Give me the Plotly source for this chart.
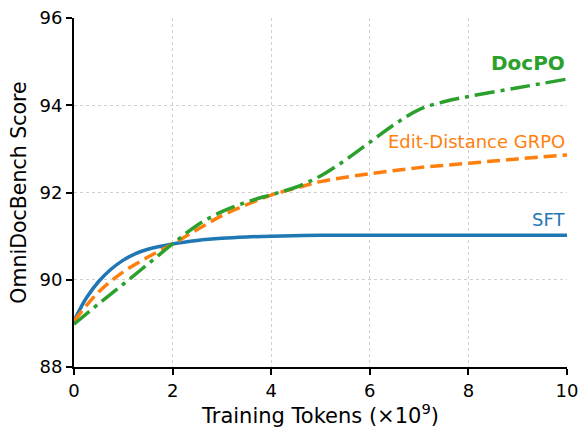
import plotly.graph_objects as go

# Data
x_sft = [0, 0.1, 0.25, 0.5, 0.75, 1.0, 1.25, 1.5, 2.0, 2.5, 3.0, 3.5, 4.0, 5.0, 6.0, 8.0, 10.0]
y_sft = [89.05, 89.28, 89.58, 89.96, 90.24, 90.45, 90.6, 90.7, 90.82, 90.9, 90.95, 90.98, 91.0, 91.02, 91.02, 91.02, 91.02]

x_grpo = [0, 0.5, 1.0, 1.5, 2.0, 2.5, 3.0, 3.5, 4.0, 4.5, 5.0, 6.0, 7.0, 8.0, 9.0, 10.0]
y_grpo = [89.05, 89.72, 90.18, 90.52, 90.82, 91.15, 91.47, 91.72, 91.94, 92.1, 92.25, 92.43, 92.57, 92.67, 92.77, 92.86]

x_doc = [0, 0.5, 1.0, 1.5, 2.0, 2.5, 3.0, 3.5, 4.0, 4.5, 5.0, 5.5, 6.0, 6.5, 7.0, 7.5, 8.0, 9.0, 10.0]
y_doc = [88.98, 89.45, 89.9, 90.36, 90.82, 91.25, 91.56, 91.78, 91.95, 92.12, 92.38, 92.74, 93.15, 93.56, 93.9, 94.08, 94.2, 94.4, 94.6]

x_ticks = [0, 2, 4, 6, 8, 10]
y_ticks = [88, 90, 92, 94, 96]

BLUE, ORANGE, GREEN = "#1f77b4", "#ff7f0e", "#2ca02c"
FONT = "DejaVu Sans"

fig = go.Figure()
fig.add_trace(go.Scatter(x=x_sft, y=y_sft, mode="lines", line=dict(color=BLUE, width=3.5, shape="spline", smoothing=1), name="SFT"))
fig.add_trace(go.Scatter(x=x_grpo, y=y_grpo, mode="lines", line=dict(color=ORANGE, width=3.5, dash="13px,6px", shape="spline", smoothing=1), name="Edit-Distance GRPO"))
fig.add_trace(go.Scatter(x=x_doc, y=y_doc, mode="lines", line=dict(color=GREEN, width=3.5, dash="20px,6px,4px,6px", shape="spline", smoothing=1), name="DocPO"))

fig.add_annotation(x=10, y=94.97, text="<b>DocPO</b>", showarrow=False, xanchor="right", yanchor="middle",
                   font=dict(family=FONT, size=20, color=GREEN))
fig.add_annotation(x=10, y=93.18, text="Edit-Distance GRPO", showarrow=False, xanchor="right", yanchor="middle",
                   font=dict(family=FONT, size=18, color=ORANGE))
fig.add_annotation(x=10, y=91.37, text="SFT", showarrow=False, xanchor="right", yanchor="middle",
                   font=dict(family=FONT, size=18, color=BLUE))

axis_common = dict(showline=True, linecolor="black", linewidth=2, ticks="outside", ticklen=6, tickwidth=2,
                   tickcolor="black", showgrid=True, gridcolor="#cfcfcf", griddash="dot", gridwidth=1,
                   zeroline=False, automargin=False, tickfont=dict(family=FONT, size=18, color="black"))

fig.update_xaxes(range=[0, 10], tickvals=x_ticks, ticktext=[str(v) for v in x_ticks],
                 title=dict(text="Training Tokens (×10<sup>9</sup>)", font=dict(family=FONT, size=21, color="black"), standoff=10),
                 **axis_common)
fig.update_yaxes(range=[88, 96], tickvals=y_ticks, ticktext=[str(v) for v in y_ticks],
                 title=dict(text="OmniDocBench Score", font=dict(family=FONT, size=20.5, color="black"), standoff=7),
                 **axis_common)

fig.update_layout(width=579, height=428, margin=dict(l=74, r=12, t=18, b=61, autoexpand=False),
                  plot_bgcolor="white", paper_bgcolor="white", showlegend=False,
                  font=dict(family=FONT))

fig.write_html("out.html", config={"displayModeBar": False},
               post_script="document.body.style.margin='0';document.body.style.overflow='hidden';")
